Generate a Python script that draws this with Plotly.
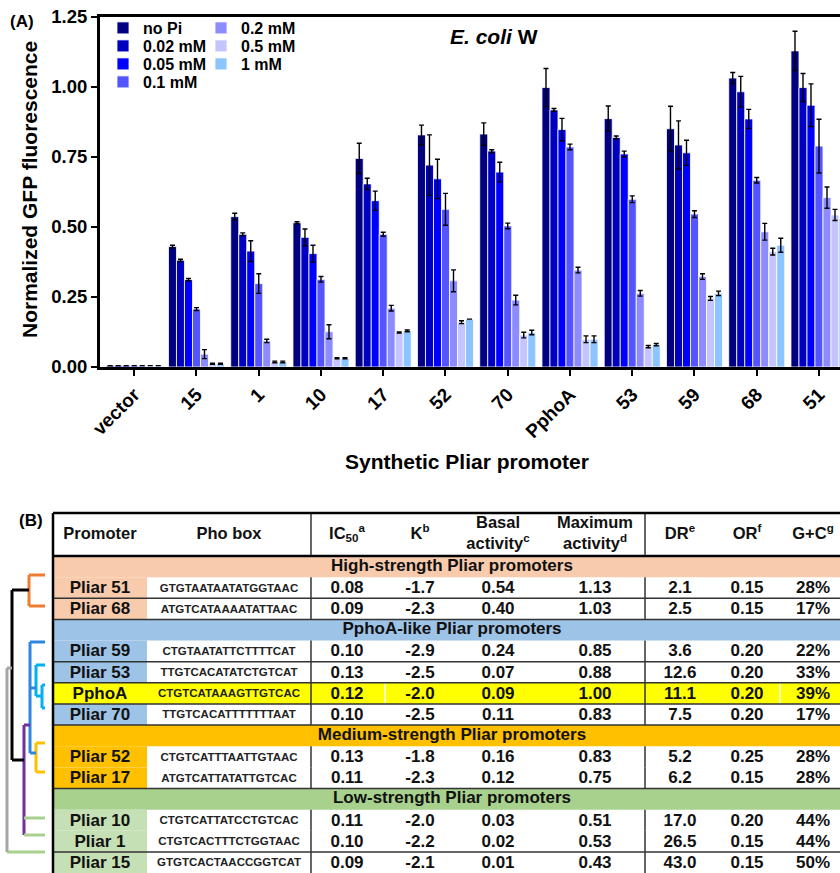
import plotly.graph_objects as go

# ---------------- Panel A data ----------------
promoters = ["vector", "15", "1", "10", "17", "52", "70", "PphoA", "53", "59", "68", "51"]
pi_levels = ["no Pi", "0.02 mM", "0.05 mM", "0.1 mM", "0.2 mM", "0.5 mM", "1 mM"]

v_noPi = [0.005, 0.430, 0.537, 0.515, 0.745, 0.829, 0.832, 0.998, 0.887, 0.851, 1.032, 1.129]
v_002 = [0.005, 0.381, 0.474, 0.463, 0.654, 0.721, 0.771, 0.918, 0.820, 0.793, 0.983, 0.998]
v_005 = [0.005, 0.312, 0.414, 0.405, 0.594, 0.672, 0.696, 0.848, 0.761, 0.765, 0.886, 0.935]
v_01 = [0.005, 0.207, 0.298, 0.313, 0.474, 0.563, 0.504, 0.786, 0.599, 0.546, 0.667, 0.789]
v_02 = [0.005, 0.046, 0.093, 0.126, 0.210, 0.308, 0.239, 0.346, 0.263, 0.323, 0.483, 0.605]
v_05 = [0.005, 0.012, 0.018, 0.031, 0.123, 0.160, 0.114, 0.099, 0.073, 0.245, 0.412, 0.543]
v_1 = [0.005, 0.012, 0.018, 0.031, 0.129, 0.171, 0.123, 0.099, 0.080, 0.263, 0.435, 0.530]

e_noPi = [0, 0.005, 0.012, 0.004, 0.054, 0.035, 0.040, 0.068, 0.045, 0.080, 0.020, 0.070]
e_002 = [0, 0.004, 0.005, 0.030, 0.020, 0.108, 0.005, 0.005, 0.005, 0.086, 0.055, 0.050]
e_005 = [0, 0.004, 0.037, 0.030, 0.034, 0.070, 0.035, 0.040, 0.010, 0.045, 0.034, 0.076]
e_01 = [0, 0.005, 0.035, 0.010, 0.007, 0.057, 0.010, 0.010, 0.012, 0.012, 0.010, 0.096]
e_02 = [0, 0.016, 0.006, 0.025, 0.010, 0.039, 0.017, 0.010, 0.010, 0.010, 0.030, 0.038]
e_05 = [0, 0.002, 0.003, 0.002, 0.002, 0.005, 0.010, 0.012, 0.004, 0.007, 0.012, 0.020]
e_1 = [0, 0.002, 0.003, 0.002, 0.003, 0.000, 0.008, 0.012, 0.004, 0.008, 0.025, 0.020]

series_values = [v_noPi, v_002, v_005, v_01, v_02, v_05, v_1]
series_errors = [e_noPi, e_002, e_005, e_01, e_02, e_05, e_1]
series_colors = ["#000080", "#0000C0", "#0000FF", "#5555FF", "#8C8CFF", "#C4C4FF", "#8CC4FF"]
y_ticks = [0.0, 0.25, 0.5, 0.75, 1.0, 1.25]

# ---------------- Panel B data ----------------
group_names = ["High-strength Pliar promoters", "PphoA-like Pliar promoters",
               "Medium-strength Pliar promoters", "Low-strength Pliar promoters"]
group_sizes = [2, 4, 2, 3]
group_header_colors = ["#F8CBAD", "#9DC3E6", "#FFC000", "#A9D18E"]
group_cell_colors = ["#F8CBAD", "#9DC3E6", "#FFC000", "#C5E0B4"]

tbl_promoter = ["Pliar 51", "Pliar 68", "Pliar 59", "Pliar 53", "PphoA", "Pliar 70",
                "Pliar 52", "Pliar 17", "Pliar 10", "Pliar 1", "Pliar 15"]
tbl_phobox = ["GTGTAATAATATGGTAAC", "ATGTCATAAAATATTAAC", "CTGTAATATTCTTTTCAT",
              "TTGTCACATATCTGTCAT", "CTGTCATAAAGTTGTCAC", "TTGTCACATTTTTTTAAT",
              "CTGTCATTTAATTGTAAC", "ATGTCATTATATTGTCAC", "CTGTCATTATCCTGTCAC",
              "CTGTCACTTTCTGGTAAC", "GTGTCACTAACCGGTCAT"]
tbl_ic50 = [0.08, 0.09, 0.10, 0.13, 0.12, 0.10, 0.13, 0.11, 0.11, 0.10, 0.09]
tbl_k = [-1.7, -2.3, -2.9, -2.5, -2.0, -2.5, -1.8, -2.3, -2.0, -2.2, -2.1]
tbl_basal = [0.54, 0.40, 0.24, 0.07, 0.09, 0.11, 0.16, 0.12, 0.03, 0.02, 0.01]
tbl_max = [1.13, 1.03, 0.85, 0.88, 1.00, 0.83, 0.83, 0.75, 0.51, 0.53, 0.43]
tbl_dr = [2.1, 2.5, 3.6, 12.6, 11.1, 7.5, 5.2, 6.2, 17.0, 26.5, 43.0]
tbl_or = [0.15, 0.15, 0.20, 0.20, 0.20, 0.20, 0.25, 0.15, 0.20, 0.15, 0.15]
tbl_gc = ["28%", "17%", "22%", "33%", "39%", "17%", "28%", "28%", "44%", "44%", "50%"]
highlight_row = "PphoA"
merged_pairs = [("Pliar 52", "Pliar 17"), ("Pliar 10", "Pliar 1")]

col_headers = ["Promoter", "Pho box", "IC<sub>50</sub><sup>a</sup>", "K<sup>b</sup>",
               "Basal<br>activity<sup>c</sup>", "Maximum<br>activity<sup>d</sup>",
               "DR<sup>e</sup>", "OR<sup>f</sup>", "G+C<sup>g</sup>"]

# dendrogram: leaves (arm y position) and clusters (children, level, node y, colour)
dendro_leaves = {"51": 575, "68": 606, "59": 642, "53": 665, "PphoA": 685, "70": 708,
                 "52": 743, "17": 772, "10": 818, "1": 835, "15": 852}
dendro_leaf_colors = {"51": "#ED7D31", "68": "#ED7D31", "59": "#2E86DE", "53": "#00B0F0",
                      "PphoA": "#00B0F0", "70": "#00B0F0", "52": "#FFC000", "17": "#FFC000",
                      "10": "#A9D18E", "1": "#A9D18E", "15": "#A9D18E"}
dendro_clusters = [
    ("c1", ["51", "68"], 29, 590, "#ED7D31"),
    ("c2", ["PphoA", "70"], 42, 696, "#00B0F0"),
    ("c3", ["53", "c2"], 36, 688, "#00B0F0"),
    ("c4", ["52", "17"], 36, 753, "#FFC000"),
    ("c5", ["59", "c3", "c4"], 30, 725, "#2E86DE"),
    ("c6", ["c5", "10", "1"], 24, 760, "#7030A0"),
    ("c7", ["c1", "c6"], 12, 668, "#000000"),
    ("c8", ["c7", "15"], 7, 760, "#A6A6A6"),
]

# ---------------- layout constants (style) ----------------
W, H = 840, 873
FONT = "Liberation Sans, Arial, sans-serif"
plot_left, plot_top, plot_bottom = 100, 17, 367
tbl_left, tbl_right, tbl_top, hdr_bottom = 53, 851, 513, 556
row_h = 21.14
col_edges = [53, 147, 311, 385, 455, 545, 645, 712, 780, 851]
col_centers = [100, 229, 347, 420, 498, 595, 680, 747, 813]
leaf_x = 45
legend_slots = [(103, 28), (103, 46), (103, 64), (103, 82), (201, 28), (201, 46), (201, 64)]


def py(ypix):
    return (H - ypix) / H


fig = go.Figure()

legend_layouts = {}
for i, name in enumerate(pi_levels):
    lname = "legend" if i == 0 else f"legend{i + 1}"
    fig.add_trace(go.Bar(
        x=promoters, y=series_values[i], name=name,
        marker=dict(color=series_colors[i], line=dict(color="white", width=0.8)),
        error_y=dict(type="data", array=series_errors[i], color="black", thickness=1.4, width=2.5),
        legend=lname, xaxis="x", yaxis="y",
    ))
    lx, ly = legend_slots[i]
    legend_layouts[lname] = dict(x=lx / W, y=py(ly), xanchor="left", yanchor="middle",
                                 bgcolor="rgba(0,0,0,0)", borderwidth=0,
                                 font=dict(family=FONT, size=16, weight="bold"),
                                 tracegroupgap=0, itemwidth=30)

# ---------------- table construction ----------------
shapes = []
rows = []
k = 0
for g, (gname, gsize) in enumerate(zip(group_names, group_sizes)):
    rows.append(("group", g))
    for _ in range(gsize):
        rows.append(("data", (k, g)))
        k += 1


def row_y(ri):
    top = hdr_bottom + ri * row_h
    return top, top + row_h


for ri, (kind, payload) in enumerate(rows):
    y0, y1 = row_y(ri)
    if kind == "group":
        shapes.append(dict(type="rect", xref="x2", yref="y2", x0=tbl_left, x1=tbl_right, y0=y0, y1=y1,
                           fillcolor=group_header_colors[payload], line=dict(width=0), layer="below"))
    else:
        idx, g = payload
        if tbl_promoter[idx] == highlight_row:
            shapes.append(dict(type="rect", xref="x2", yref="y2", x0=tbl_left, x1=tbl_right, y0=y0, y1=y1,
                               fillcolor="#FFFF00", line=dict(width=0), layer="below"))
            for xe in (col_edges[3], col_edges[8]):
                shapes.append(dict(type="line", xref="x2", yref="y2", x0=xe, x1=xe, y0=y0, y1=y1,
                                   line=dict(color="white", width=1.5), layer="below"))
        else:
            shapes.append(dict(type="rect", xref="x2", yref="y2", x0=col_edges[0], x1=col_edges[1], y0=y0, y1=y1,
                               fillcolor=group_cell_colors[g], line=dict(width=0), layer="below"))

merged_lower = {b for a, b in merged_pairs}
for ri, (kind, payload) in enumerate(rows):
    y0, y1 = row_y(ri)
    if kind == "data":
        idx, g = payload
        prev_kind = rows[ri - 1][0]
        if prev_kind == "data" and tbl_promoter[idx] not in merged_lower:
            shapes.append(dict(type="line", xref="x2", yref="y2", x0=tbl_left, x1=tbl_right, y0=y0, y1=y0,
                               line=dict(color="#333333", width=1.5), layer="below"))
        nxt = rows[ri + 1][0] if ri + 1 < len(rows) else None
        if nxt == "group":
            shapes.append(dict(type="line", xref="x2", yref="y2", x0=tbl_left, x1=tbl_right, y0=y1, y1=y1,
                               line=dict(color="#333333", width=1.5), layer="below"))
        for xe in (col_edges[2], col_edges[6]):
            shapes.append(dict(type="line", xref="x2", yref="y2", x0=xe, x1=xe, y0=y0, y1=y1,
                               line=dict(color="#333333", width=1.5), layer="below"))

for xe in (col_edges[2], col_edges[6]):
    shapes.append(dict(type="line", xref="x2", yref="y2", x0=xe, x1=xe, y0=tbl_top, y1=hdr_bottom,
                       line=dict(color="#333333", width=1.5), layer="below"))
shapes.append(dict(type="line", xref="x2", yref="y2", x0=tbl_left, x1=tbl_right, y0=tbl_top, y1=tbl_top,
                   line=dict(color="black", width=2.5), layer="below"))
shapes.append(dict(type="line", xref="x2", yref="y2", x0=tbl_left, x1=tbl_right, y0=hdr_bottom, y1=hdr_bottom,
                   line=dict(color="black", width=2.5), layer="below"))
shapes.append(dict(type="line", xref="x2", yref="y2", x0=tbl_left, x1=tbl_left, y0=tbl_top, y1=H + 5,
                   line=dict(color="black", width=2.5), layer="below"))

fig.add_trace(go.Scatter(
    x=col_centers, y=[(tbl_top + hdr_bottom) / 2] * len(col_headers), text=col_headers,
    mode="text", textfont=dict(family=FONT, size=16.5, color="#111111", weight="bold"),
    xaxis="x2", yaxis="y2", showlegend=False, hoverinfo="skip"))

g_y = [sum(row_y(ri)) / 2 for ri, r in enumerate(rows) if r[0] == "group"]
fig.add_trace(go.Scatter(
    x=[(tbl_left + tbl_right) / 2] * len(group_names), y=g_y, text=group_names,
    mode="text", textfont=dict(family=FONT, size=17, color="#111111", weight="bold"),
    xaxis="x2", yaxis="y2", showlegend=False, hoverinfo="skip"))

d_y = [sum(row_y(ri)) / 2 + 1 for ri, r in enumerate(rows) if r[0] == "data"]
num_cols = [
    [f"{v:.2f}" for v in tbl_ic50],
    [f"{v:.1f}" for v in tbl_k],
    [f"{v:.2f}" for v in tbl_basal],
    [f"{v:.2f}" for v in tbl_max],
    [f"{v:.1f}" for v in tbl_dr],
    [f"{v:.2f}" for v in tbl_or],
    tbl_gc,
]
fig.add_trace(go.Scatter(
    x=[col_centers[0]] * len(tbl_promoter), y=d_y, text=tbl_promoter,
    mode="text", textfont=dict(family=FONT, size=17, color="#111111", weight="bold"),
    xaxis="x2", yaxis="y2", showlegend=False, hoverinfo="skip"))
fig.add_trace(go.Scatter(
    x=[col_centers[1]] * len(tbl_phobox), y=d_y, text=tbl_phobox,
    mode="text", textfont=dict(family=FONT, size=11.5, color="#222222", weight="bold"),
    xaxis="x2", yaxis="y2", showlegend=False, hoverinfo="skip"))
xs, ys, ts = [], [], []
for c, vals in enumerate(num_cols):
    for r, t in enumerate(vals):
        xs.append(col_centers[c + 2])
        ys.append(d_y[r])
        ts.append(t)
fig.add_trace(go.Scatter(
    x=xs, y=ys, text=ts, mode="text",
    textfont=dict(family=FONT, size=17, color="#111111", weight="bold"),
    xaxis="x2", yaxis="y2", showlegend=False, hoverinfo="skip"))

# dendrogram
node_pos = {leaf: (leaf_x, yv) for leaf, yv in dendro_leaves.items()}
seg_x, seg_y = {}, {}
for cid, children, lvl, ny, color in dendro_clusters:
    cys = [node_pos[ch][1] for ch in children]
    seg_x.setdefault(color, []).extend([lvl, lvl, None])
    seg_y.setdefault(color, []).extend([min(cys), max(cys), None])
    for ch in children:
        cx, cy = node_pos[ch]
        col = dendro_leaf_colors[ch] if ch in dendro_leaves else color
        seg_x.setdefault(col, []).extend([lvl, cx, None])
        seg_y.setdefault(col, []).extend([cy, cy, None])
    node_pos[cid] = (lvl, ny)
for col in seg_x:
    fig.add_trace(go.Scatter(
        x=seg_x[col], y=seg_y[col], mode="lines", line=dict(color=col, width=3),
        xaxis="x2", yaxis="y2", showlegend=False, hoverinfo="skip", cliponaxis=False))

fig.update_layout(shapes=shapes)

fig.update_layout(
    width=W, height=H, margin=dict(l=0, r=0, t=0, b=0),
    template="none", paper_bgcolor="white", plot_bgcolor="white",
    barmode="group", bargap=0.1, bargroupgap=0.0,
    font=dict(family=FONT, color="black"),
    xaxis=dict(domain=[plot_left / W, 1.0], type="category", range=[-0.55, 11 + 21 / 62.24],
               showline=True, linecolor="black", linewidth=3, mirror=True,
               ticks="outside", ticklen=6, tickwidth=2, tickcolor="black",
               tickangle=-45, tickfont=dict(family=FONT, size=19, weight="bold"),
               showgrid=False, zeroline=False, automargin=False, anchor="y"),
    yaxis=dict(domain=[py(plot_bottom), py(plot_top)], range=[0, 1.25],
               tickvals=y_ticks, ticktext=[f"{v:.2f}" for v in y_ticks],
               showline=True, linecolor="black", linewidth=3,
               ticks="outside", ticklen=6, tickwidth=2, tickcolor="black",
               tickfont=dict(family=FONT, size=18.5, weight="bold"),
               showgrid=False, zeroline=False, automargin=False, anchor="x"),
    xaxis2=dict(domain=[0, 1], range=[0, W], visible=False, anchor="y2", fixedrange=True),
    yaxis2=dict(domain=[0, py(500)], range=[H, 500], visible=False, anchor="x2", fixedrange=True),
    annotations=[
        dict(text="(A)", x=8 / W, y=py(21), xref="paper", yref="paper", xanchor="left", yanchor="middle",
             showarrow=False, font=dict(family=FONT, size=17, weight="bold")),
        dict(text="<i>E. coli</i> W", x=494 / W, y=py(37), xref="paper", yref="paper",
             xanchor="center", yanchor="middle", showarrow=False,
             font=dict(family=FONT, size=21, weight="bold")),
        dict(text="Normalized GFP fluorescence", x=29 / W, y=py(190), xref="paper", yref="paper",
             xanchor="center", yanchor="middle", textangle=-90, showarrow=False,
             font=dict(family=FONT, size=21, weight="bold")),
        dict(text="Synthetic Pliar promoter", x=467 / W, y=py(461), xref="paper", yref="paper",
             xanchor="center", yanchor="middle", showarrow=False,
             font=dict(family=FONT, size=21, weight="bold")),
        dict(text="(B)", x=17 / W, y=py(520), xref="paper", yref="paper", xanchor="left", yanchor="middle",
             showarrow=False, font=dict(family=FONT, size=17, weight="bold")),
    ],
)
fig.update_layout(**legend_layouts)

fig.write_html("out.html", config={"displayModeBar": False},
               post_script="document.body.style.margin='0px';document.body.style.overflow='hidden';")
